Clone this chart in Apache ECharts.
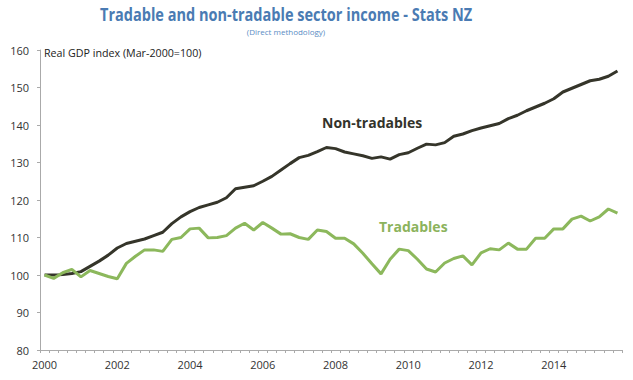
<!DOCTYPE html>
<html>
<head>
<meta charset="utf-8">
<script src="https://cdn.jsdelivr.net/npm/echarts@6/dist/echarts.min.js"></script>
<style>html,body{margin:0;padding:0;background:#fff}#c{width:633px;height:380px}</style>
</head>
<body>
<div id="c"></div>
<script>
// Quarterly data, Mar-2000 .. Dec-2015
const years = [2000,2001,2002,2003,2004,2005,2006,2007,2008,2009,2010,2011,2012,2013,2014,2015];
const quarters = [];
years.forEach(y => { for (let q = 1; q <= 4; q++) quarters.push(y + 'Q' + q); });

const nonTradables = [
  100.0, 100.0, 100.1, 100.4,
  100.9, 102.3, 103.7, 105.3,
  107.2, 108.4, 109.0, 109.6,
  110.5, 111.4, 113.7, 115.5,
  116.9, 118.0, 118.7, 119.4,
  120.6, 123.0, 123.4, 123.8,
  125.0, 126.3, 128.0, 129.7,
  131.3, 131.9, 132.9, 134.0,
  133.7, 132.8, 132.3, 131.8,
  131.1, 131.5, 130.9, 132.1,
  132.6, 133.8, 134.9, 134.7,
  135.3, 137.0, 137.6, 138.5,
  139.2, 139.8, 140.4, 141.7,
  142.6, 143.8, 144.8, 145.8,
  147.0, 148.8, 149.8, 150.8,
  151.8, 152.2, 153.0, 154.4
];
const tradables = [
  100.0, 99.1, 100.6, 101.5,
  99.5, 101.2, 100.4, 99.6,
  99.0, 103.1, 105.0, 106.7,
  106.7, 106.3, 109.5, 110.0,
  112.3, 112.5, 109.9, 110.0,
  110.5, 112.5, 113.8, 112.0,
  114.0, 112.5, 110.9, 111.0,
  110.0, 109.5, 112.0, 111.6,
  109.8, 109.8, 108.3, 105.8,
  103.0, 100.3, 104.2, 106.9,
  106.5, 104.2, 101.6, 100.8,
  103.2, 104.4, 105.1, 102.7,
  105.9, 107.0, 106.7, 108.5,
  106.9, 106.9, 109.8, 109.8,
  112.3, 112.3, 114.9, 115.7,
  114.4, 115.5, 117.6, 116.5
];
const yTicks = {min: 80, max: 160, interval: 10};

const chart = echarts.init(document.getElementById('c'), null, {renderer: 'svg'});
const FONT = '"Open Sans", "Noto Sans", sans-serif';
chart.setOption({
  animation: false,
  backgroundColor: '#fff',
  grid: {left: 40, right: 11, top: 50, bottom: 30},
  xAxis: {
    type: 'category',
    data: quarters,
    boundaryGap: true,
    axisLine: {lineStyle: {color: '#aaa', width: 1}},
    axisTick: {show: true, interval: 0, length: 3, lineStyle: {color: '#aaa'}},
    axisLabel: {
      interval: (i, v) => v.endsWith('Q1') && parseInt(v) % 2 === 0,
      formatter: v => v.slice(0, 4),
      fontFamily: FONT, fontSize: 11, color: '#333', margin: 9
    },
    splitLine: {show: false}
  },
  yAxis: {
    type: 'value',
    min: yTicks.min, max: yTicks.max, interval: yTicks.interval,
    axisLine: {show: true, lineStyle: {color: '#aaa', width: 1}},
    axisTick: {show: true, length: 3, lineStyle: {color: '#aaa'}},
    axisLabel: {fontFamily: FONT, fontSize: 11, color: '#333', margin: 11},
    splitLine: {show: false}
  },
  graphic: [
    {type: 'text', x: 100, y: 15, scaleX: 0.855, originX: 0,
     style: {text: 'Tradable and non-tradable sector income - Stats NZ', font: 'bold 17px ' + FONT,
             fill: '#4a7bb3', textVerticalAlign: 'middle', textAlign: 'left'}},
    {type: 'text', x: 286, y: 31.5,
     style: {text: '(Direct methodology)', font: '8px ' + FONT, fill: '#5a8cc4',
             textAlign: 'center', textVerticalAlign: 'middle'}},
    {type: 'text', x: 44, y: 53,
     style: {text: 'Real GDP index (Mar-2000=100)', font: '10.7px ' + FONT, fill: '#222', textVerticalAlign: 'middle'}},
    {type: 'text', x: 322, y: 122,
     style: {text: 'Non-tradables', font: 'bold 14px ' + FONT, fill: '#33332a', textVerticalAlign: 'middle'}},
    {type: 'text', x: 379, y: 226,
     style: {text: 'Tradables', font: 'bold 14px ' + FONT, fill: '#8cb35c', textVerticalAlign: 'middle'}}
  ],
  series: [
    {name: 'Non-tradables', type: 'line', data: nonTradables, showSymbol: false, symbol: 'none',
     lineStyle: {color: '#35352a', width: 3}, itemStyle: {color: '#35352a'}},
    {name: 'Tradables', type: 'line', data: tradables, showSymbol: false, symbol: 'none',
     lineStyle: {color: '#8cb85c', width: 3}, itemStyle: {color: '#8cb85c'}}
  ]
});
</script>
</body>
</html>
